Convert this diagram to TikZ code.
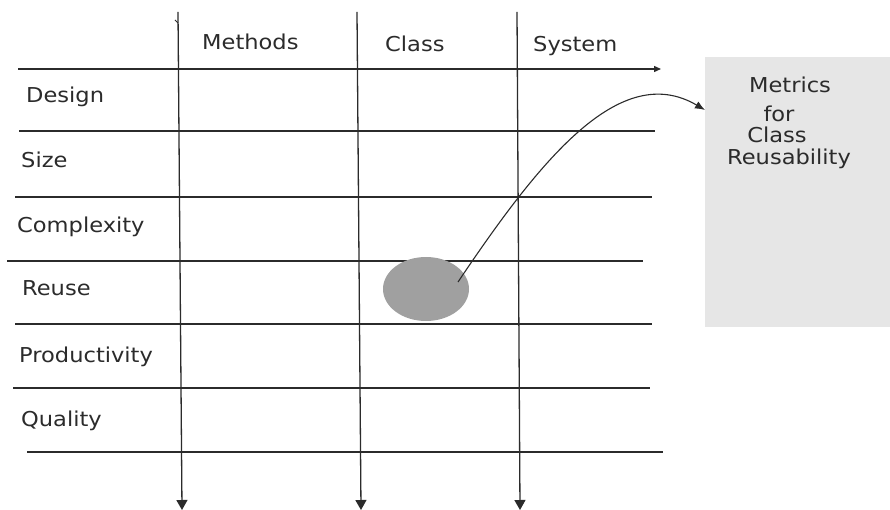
\documentclass[tikz,border=0pt]{standalone}
\usepackage{fontspec}
\setmainfont{DejaVu Sans}[FakeStretch=1.1]
\usetikzlibrary{arrows.meta,shapes.geometric}
\definecolor{ink}{HTML}{2B2B2B}
\definecolor{boxgray}{HTML}{E6E6E6}
\definecolor{blobgray}{HTML}{A0A0A0}
\begin{document}
\begin{tikzpicture}[x=1pt,y=-1pt,
  gridline/.style={draw=ink, line width=1.3pt},
  colarrow/.style={draw=ink, line width=1.3pt, -{Triangle[length=10pt,width=11pt]}},
  lbl/.style={anchor=base west, inner sep=0pt, text=ink, font=\fontsize{20.5}{24}\selectfont},
  boxtxt/.style={anchor=base, inner sep=0pt, text=ink, font=\fontsize{20.5}{24}\selectfont}]
\useasboundingbox (0,0) rectangle (890,510);
% metrics box
\node[fill=boxgray, draw=none, minimum width=185pt, minimum height=270pt, inner sep=0pt] (box) at (797.5,192) {};
\node[boxtxt] (t1) at (790,93) {Metrics};
\node[boxtxt] (t2) at (779,122) {for};
\node[boxtxt] (t3) at (777,143) {Class};
\node[boxtxt] (t4) at (789,165) {Reusability};
% horizontal lines
\draw[draw=ink, line width=1.3pt, -{Triangle[length=7pt,width=6pt]}] (18,69) -- (661,69);
\draw[gridline] (19,131) -- (655,131);
\draw[gridline] (15,197) -- (652,197);
\draw[gridline] (7,261) -- (643,261);
\draw[gridline] (15,324) -- (652,324);
\draw[gridline] (13,388) -- (650,388);
\draw[gridline] (27,452) -- (663,452);
% vertical arrows
\draw[colarrow] (178,12) -- (182,510);
\draw[colarrow] (357,12) -- (361,510);
\draw[colarrow] (517,12) -- (520,510);
\draw[draw=ink, line width=0.9pt] (175,20) -- (178,23);
% headers
\node[lbl] (h1) at (202,50) {Methods};
\node[lbl] (h2) at (385,52) {Class};
\node[lbl] (h3) at (533,52) {System};
% row labels
\node[lbl] (r1) at (26,103) {Design};
\node[lbl] (r2) at (21,168) {Size};
\node[lbl] (r3) at (17,233) {Complexity};
\node[lbl] (r4) at (22,295) {Reuse};
\node[lbl] (r5) at (19,362) {Productivity};
\node[lbl] (r6) at (21,426) {Quality};
% blob and connector
\node[ellipse, fill=blobgray, draw=none, minimum width=86pt, minimum height=64pt, inner sep=0pt] (blob) at (426,289) {};
\coordinate (src) at (458,282);
\coordinate (tip) at (705,110);
\draw[draw=ink, line width=1.1pt, -{Latex[length=10pt,width=8pt]}] (src) .. controls (540,160) and (620,60) .. (tip);
\end{tikzpicture}
\end{document}
